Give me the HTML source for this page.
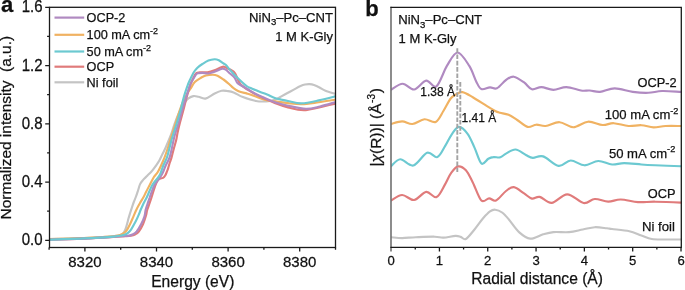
<!DOCTYPE html>
<html><head><meta charset="utf-8"><style>
html,body{margin:0;padding:0;background:#fff;}
body{width:685px;height:290px;overflow:hidden;}
svg{display:block;will-change:transform;}
text{font-family:"Liberation Sans",sans-serif;fill:#111;stroke:#111;stroke-width:0.25px;}
</style></head><body>
<svg width="685" height="290" viewBox="0 0 685 290">
<defs>
<clipPath id="ca"><rect x="49.5" y="7.3" width="286.0" height="240.2"/></clipPath>
<clipPath id="cb"><rect x="391.0" y="7.4" width="290.3" height="240.0"/></clipPath>
</defs>
<g clip-path="url(#ca)">
<path d="M49.0 239.2 C54.8 239.0 73.8 238.4 84.0 238.0 C94.2 237.6 104.5 236.9 110.0 236.5 C115.5 236.1 115.2 236.1 117.0 235.8 C118.8 235.5 120.0 235.2 121.0 234.8 C122.0 234.4 122.6 233.9 123.2 233.2 C123.8 232.5 124.2 232.0 124.8 230.8 C125.3 229.6 125.9 228.0 126.5 226.0 C127.1 224.0 127.8 221.1 128.4 218.8 C129.0 216.6 129.7 214.5 130.3 212.5 C130.9 210.5 131.5 208.8 132.1 207.0 C132.7 205.2 133.3 203.2 134.0 201.5 C134.7 199.8 135.3 198.4 136.0 196.5 C136.7 194.6 137.5 192.1 138.2 190.0 C138.9 187.9 139.3 185.8 140.1 184.1 C140.9 182.4 141.9 181.3 143.1 179.9 C144.3 178.5 145.9 177.1 147.3 175.7 C148.7 174.3 150.1 173.1 151.5 171.5 C152.9 169.9 154.4 167.8 155.7 166.0 C157.0 164.2 158.1 162.8 159.2 160.8 C160.3 158.8 161.4 156.2 162.5 154.0 C163.6 151.8 164.3 150.7 165.7 147.5 C167.1 144.3 169.4 138.9 170.9 135.0 C172.4 131.1 173.2 127.5 174.5 124.0 C175.8 120.5 177.2 116.9 178.5 114.0 C179.8 111.1 181.1 108.6 182.3 106.5 C183.5 104.4 184.5 102.8 185.5 101.5 C186.5 100.2 187.1 99.3 188.4 98.4 C189.7 97.5 191.7 96.4 193.4 96.1 C195.1 95.8 196.5 96.4 198.5 96.8 C200.5 97.2 202.8 99.1 205.5 98.6 C208.2 98.0 212.0 94.8 214.7 93.5 C217.4 92.2 219.5 91.2 221.6 90.8 C223.7 90.4 225.0 90.7 227.0 91.0 C229.0 91.3 230.9 91.4 233.6 92.4 C236.2 93.4 239.2 95.7 242.9 97.1 C246.6 98.5 252.0 100.3 255.9 101.0 C259.8 101.7 263.1 101.6 266.2 101.4 C269.3 101.2 272.4 100.5 274.8 99.7 C277.2 99.0 278.5 98.0 280.5 96.9 C282.5 95.8 284.8 94.5 287.0 93.3 C289.2 92.1 291.6 90.8 293.8 89.6 C296.0 88.4 298.1 87.0 300.0 86.2 C301.9 85.4 303.4 84.8 305.0 84.5 C306.6 84.2 308.0 84.0 309.5 84.1 C311.0 84.2 312.3 84.4 314.0 85.0 C315.7 85.6 317.6 86.5 319.5 87.5 C321.4 88.5 322.9 89.8 325.5 90.8 C328.1 91.8 333.4 93.3 335.0 93.8" stroke="#C4C4C4" stroke-width="2.15" fill="none" stroke-linejoin="round" stroke-linecap="round"/>
<path d="M49.0 239.2 C54.8 239.1 73.8 238.5 84.0 238.1 C94.2 237.6 104.7 237.0 110.0 236.6 C115.3 236.2 114.3 236.2 116.0 235.9 C117.7 235.6 118.8 235.4 120.0 235.0 C121.2 234.6 122.4 234.1 123.5 233.3 C124.6 232.5 125.6 231.9 126.7 230.4 C127.8 228.9 128.9 226.6 130.0 224.3 C131.1 222.0 132.3 219.1 133.4 216.6 C134.5 214.1 135.4 211.8 136.5 209.5 C137.6 207.2 138.9 205.0 140.0 203.0 C141.1 201.0 142.2 199.4 143.3 197.5 C144.4 195.6 145.2 193.6 146.3 191.5 C147.4 189.4 148.4 187.4 149.7 185.0 C151.0 182.6 152.5 179.2 153.9 177.0 C155.3 174.8 156.5 174.3 158.1 171.5 C159.7 168.7 161.8 164.0 163.5 160.0 C165.2 156.0 166.6 151.7 168.0 147.5 C169.4 143.3 170.5 139.2 171.8 135.0 C173.1 130.8 174.6 126.7 175.9 122.5 C177.2 118.3 178.5 113.7 179.8 110.0 C181.1 106.3 182.3 103.2 183.5 100.5 C184.7 97.8 186.0 95.5 187.2 93.5 C188.4 91.5 189.2 90.5 190.5 88.6 C191.8 86.7 193.1 83.9 194.8 82.1 C196.5 80.3 199.1 78.9 200.9 77.8 C202.8 76.7 203.9 76.0 205.9 75.5 C207.9 75.0 210.9 74.7 212.8 74.7 C214.7 74.7 215.7 74.9 217.5 75.7 C219.3 76.5 221.5 78.1 223.5 79.5 C225.5 80.9 227.7 82.8 229.3 84.2 C230.9 85.6 231.4 86.5 233.0 87.7 C234.6 88.9 236.3 90.2 238.6 91.2 C240.9 92.2 244.4 92.8 246.6 93.4 C248.8 94.0 248.6 93.9 251.6 94.9 C254.6 96.0 260.6 98.6 264.5 99.7 C268.4 100.8 270.9 100.8 274.8 101.4 C278.7 102.0 283.5 102.6 288.0 103.1 C292.5 103.6 296.5 104.3 301.6 104.2 C306.7 104.1 313.2 103.0 318.8 102.3 C324.4 101.5 332.3 100.1 335.0 99.7" stroke="#F0B262" stroke-width="2.15" fill="none" stroke-linejoin="round" stroke-linecap="round"/>
<path d="M49.0 239.8 C54.8 239.6 73.8 239.0 84.0 238.6 C94.2 238.1 103.2 237.6 110.0 237.2 C116.8 236.8 121.5 236.5 125.0 236.3 C128.5 236.1 129.3 236.1 131.0 235.8 C132.7 235.5 133.7 235.2 135.0 234.5 C136.3 233.8 137.5 233.2 138.8 231.5 C140.1 229.8 141.8 227.0 143.0 224.3 C144.2 221.6 145.3 217.9 146.0 215.5 C146.7 213.1 146.6 211.9 147.2 210.0 C147.8 208.1 148.6 206.1 149.3 204.0 C150.0 201.9 150.8 199.7 151.5 197.5 C152.2 195.3 152.9 193.0 153.5 191.0 C154.1 189.0 154.8 187.0 155.3 185.5 C155.9 184.0 156.3 183.0 156.8 182.0 C157.3 181.0 157.7 180.1 158.3 179.5 C158.9 178.9 159.7 178.8 160.5 178.5 C161.3 178.2 162.2 178.4 163.0 177.9 C163.8 177.4 164.5 176.6 165.2 175.5 C165.9 174.4 166.5 172.6 167.1 171.2 C167.7 169.8 168.1 168.3 168.5 167.0 C168.9 165.7 169.0 165.1 169.5 163.5 C170.0 161.9 170.8 160.2 171.5 157.6 C172.2 155.0 173.2 150.9 174.0 148.0 C174.8 145.1 175.6 142.5 176.2 140.0 C176.8 137.5 176.9 135.9 177.5 133.0 C178.1 130.1 179.0 126.3 180.0 122.5 C181.0 118.7 182.3 114.2 183.4 110.0 C184.5 105.8 185.4 101.7 186.6 97.5 C187.8 93.3 189.2 88.2 190.3 85.0 C191.4 81.8 192.3 80.0 193.3 78.0 C194.3 76.0 195.3 74.0 196.4 73.1 C197.5 72.2 198.0 72.6 199.8 72.4 C201.7 72.2 205.1 72.6 207.5 72.2 C209.9 71.8 212.3 71.0 214.5 70.2 C216.7 69.4 218.9 68.2 220.5 67.6 C222.1 67.0 222.8 66.6 224.0 66.7 C225.2 66.8 226.2 67.8 227.5 68.4 C228.8 69.0 230.4 69.5 231.7 70.3 C233.0 71.1 233.7 71.2 235.2 73.5 C236.7 75.8 237.8 81.1 240.5 84.2 C243.2 87.3 247.6 89.6 251.6 92.0 C255.6 94.4 260.6 96.7 264.5 98.5 C268.4 100.3 270.9 101.5 274.8 103.0 C278.7 104.5 282.8 106.2 288.0 107.4 C293.2 108.6 298.1 110.7 305.9 110.1 C313.7 109.5 330.1 104.7 335.0 103.6" stroke="#E07B7B" stroke-width="2.15" fill="none" stroke-linejoin="round" stroke-linecap="round"/>
<path d="M49.0 239.8 C54.8 239.6 73.8 239.0 84.0 238.6 C94.2 238.1 103.7 237.5 110.0 237.1 C116.3 236.7 118.8 236.4 122.0 236.2 C125.2 235.9 127.2 235.9 129.0 235.6 C130.8 235.3 131.7 234.9 133.0 234.2 C134.3 233.5 135.3 233.2 136.7 231.5 C138.0 229.8 139.8 226.8 141.1 224.3 C142.4 221.8 143.7 219.0 144.4 216.6 C145.2 214.2 145.1 212.1 145.6 210.0 C146.1 207.9 146.8 206.1 147.5 204.0 C148.2 201.9 148.9 199.7 149.7 197.5 C150.4 195.3 151.3 192.9 152.0 191.0 C152.7 189.1 153.4 187.3 154.0 186.0 C154.6 184.7 155.2 183.9 155.8 183.0 C156.4 182.1 157.2 181.4 157.8 180.5 C158.5 179.6 159.1 178.5 159.7 177.6 C160.3 176.7 160.8 176.4 161.4 175.3 C162.0 174.2 162.8 172.6 163.5 171.0 C164.2 169.4 164.8 167.5 165.5 166.0 C166.2 164.5 166.8 163.4 167.5 162.0 C168.2 160.6 168.8 159.6 169.5 157.6 C170.2 155.6 170.8 152.9 171.5 150.0 C172.2 147.1 172.9 142.8 173.6 140.0 C174.2 137.2 174.5 135.9 175.4 133.0 C176.3 130.1 177.7 126.3 178.8 122.5 C179.9 118.7 181.0 114.2 182.2 110.0 C183.4 105.8 184.8 101.6 186.1 97.5 C187.4 93.4 188.7 88.5 189.8 85.5 C190.9 82.5 191.9 81.4 192.9 79.6 C193.9 77.8 195.0 75.7 195.9 74.6 C196.8 73.5 197.0 73.5 198.1 73.2 C199.2 72.9 200.7 72.8 202.4 72.8 C204.1 72.8 206.4 73.7 208.4 73.5 C210.4 73.3 212.2 72.6 214.5 71.8 C216.8 71.0 220.3 69.1 222.2 68.8 C224.1 68.5 224.4 68.9 225.7 69.7 C227.0 70.5 228.5 72.2 230.0 73.5 C231.5 74.8 233.2 75.8 234.5 77.5 C235.8 79.2 235.9 81.6 237.9 83.4 C239.9 85.2 243.7 86.8 246.6 88.5 C249.5 90.2 252.2 92.1 255.2 93.7 C258.2 95.3 261.2 96.5 264.5 97.9 C267.8 99.3 270.9 100.9 274.8 102.2 C278.7 103.5 282.8 104.6 288.0 105.7 C293.2 106.8 300.6 108.7 305.9 108.8 C311.2 108.9 315.1 107.6 320.0 106.5 C324.9 105.4 332.5 103.0 335.0 102.3" stroke="#B08AC1" stroke-width="2.15" fill="none" stroke-linejoin="round" stroke-linecap="round"/>
<path d="M49.0 239.7 C54.8 239.4 73.8 238.9 84.0 238.4 C94.2 238.0 104.3 237.4 110.0 236.9 C115.7 236.5 116.1 236.2 118.0 236.0 C119.9 235.8 120.4 235.7 121.5 235.5 C122.6 235.3 123.4 235.2 124.5 234.8 C125.6 234.4 126.9 233.7 128.0 232.8 C129.1 231.9 129.9 231.2 131.2 229.3 C132.5 227.4 134.3 224.1 135.6 221.6 C136.9 219.1 138.1 216.3 138.9 214.4 C139.7 212.5 139.8 211.8 140.6 210.0 C141.4 208.2 142.5 205.6 143.5 203.5 C144.5 201.4 145.7 199.6 146.7 197.5 C147.7 195.4 148.6 193.1 149.5 191.0 C150.4 188.9 151.4 186.6 152.3 185.0 C153.2 183.4 154.0 182.6 154.8 181.5 C155.6 180.4 156.4 179.7 157.3 178.5 C158.2 177.3 159.3 175.9 160.0 174.5 C160.7 173.1 161.1 171.6 161.7 170.0 C162.3 168.4 162.6 167.1 163.5 165.0 C164.4 162.9 165.9 160.4 166.9 157.6 C167.9 154.8 168.7 150.9 169.5 148.0 C170.3 145.1 170.9 142.3 171.5 140.0 C172.1 137.7 172.4 136.9 173.3 134.0 C174.2 131.1 175.8 126.5 177.0 122.5 C178.2 118.5 179.5 114.2 180.6 110.0 C181.7 105.8 182.6 101.5 183.7 97.5 C184.8 93.5 186.4 88.9 187.4 86.0 C188.4 83.1 188.8 82.3 189.9 80.0 C191.0 77.7 192.6 74.2 193.8 72.2 C195.0 70.2 195.8 69.3 197.2 67.9 C198.6 66.5 200.5 65.2 202.4 64.0 C204.3 62.8 206.4 61.4 208.4 60.6 C210.4 59.8 212.8 59.4 214.5 59.3 C216.2 59.2 217.4 59.6 218.8 60.2 C220.2 60.9 221.9 62.4 223.1 63.2 C224.2 64.0 224.8 64.0 225.7 64.8 C226.6 65.6 227.3 66.7 228.3 67.9 C229.3 69.1 230.1 70.1 231.7 71.8 C233.3 73.5 235.4 75.8 237.9 78.2 C240.4 80.6 244.3 84.3 246.6 86.0 C248.9 87.7 249.3 87.4 251.6 88.4 C253.9 89.4 257.6 90.9 260.2 91.9 C262.8 92.9 264.7 93.5 267.1 94.5 C269.5 95.5 272.4 97.0 274.8 97.9 C277.2 98.8 279.5 99.2 281.7 99.7 C283.9 100.2 284.7 100.4 288.0 101.0 C291.3 101.6 296.5 103.4 301.6 103.3 C306.7 103.2 313.2 101.6 318.8 100.4 C324.4 99.2 332.3 97.1 335.0 96.4" stroke="#6CC9D1" stroke-width="2.15" fill="none" stroke-linejoin="round" stroke-linecap="round"/>
</g>
<rect x="49.5" y="7.3" width="286.0" height="240.2" fill="none" stroke="#1a1a1a" stroke-width="1.3"/>
<path d="M45.2 240.30H49.5 M45.2 182.06H49.5 M45.2 123.82H49.5 M45.2 65.58H49.5 M45.2 7.34H49.5 M47.1 211.18H49.5 M47.1 152.94H49.5 M47.1 94.70H49.5 M47.1 36.46H49.5 M84.90 247.5V251.5 M156.50 247.5V251.5 M228.10 247.5V251.5 M299.70 247.5V251.5 M49.10 247.5V249.7 M120.70 247.5V249.7 M192.30 247.5V249.7 M263.90 247.5V249.7 M335.50 247.5V249.7" stroke="#1a1a1a" stroke-width="1.3" fill="none"/>
<text transform="translate(42.6,245.40) scale(1,1.04)" font-size="15" text-anchor="end">0.0</text>
<text transform="translate(42.6,187.16) scale(1,1.04)" font-size="15" text-anchor="end">0.4</text>
<text transform="translate(42.6,128.92) scale(1,1.04)" font-size="15" text-anchor="end">0.8</text>
<text transform="translate(42.6,70.68) scale(1,1.04)" font-size="15" text-anchor="end">1.2</text>
<text transform="translate(42.6,12.44) scale(1,1.04)" font-size="15" text-anchor="end">1.6</text>
<text transform="translate(84.90,266.8) scale(1,1.002)" font-size="15" text-anchor="middle">8320</text>
<text transform="translate(156.50,266.8) scale(1,1.002)" font-size="15" text-anchor="middle">8340</text>
<text transform="translate(228.10,266.8) scale(1,1.002)" font-size="15" text-anchor="middle">8360</text>
<text transform="translate(299.70,266.8) scale(1,1.002)" font-size="15" text-anchor="middle">8380</text>
<text x="192.8" y="286.7" font-size="15.6" text-anchor="middle">Energy (eV)</text>
<text transform="translate(10.9,127.7) rotate(-90)" font-size="15.45" text-anchor="middle" xml:space="preserve">Normalized intensity  (a.u.)</text>
<text x="1.0" y="11.8" font-size="22" font-weight="bold">a</text>
<path d="M54.5 17.6H84.2" stroke="#B08AC1" stroke-width="2.2"/>
<text x="86.6" y="22.2" font-size="12.7">OCP-2</text>
<path d="M54.5 34.8H84.2" stroke="#F0B262" stroke-width="2.2"/>
<text x="86.6" y="39.4" font-size="12.7">100 mA cm<tspan dy="-5" font-size="9">-2</tspan></text>
<path d="M54.5 51.5H84.2" stroke="#6CC9D1" stroke-width="2.2"/>
<text x="86.6" y="56.1" font-size="12.7">50 mA cm<tspan dy="-5" font-size="9">-2</tspan></text>
<path d="M54.5 66.7H84.2" stroke="#E07B7B" stroke-width="2.2"/>
<text x="86.6" y="71.3" font-size="12.7">OCP</text>
<path d="M54.5 82.3H84.2" stroke="#C4C4C4" stroke-width="2.2"/>
<text x="86.6" y="86.9" font-size="12.7">Ni foil</text>
<text x="333" y="22.3" font-size="13.1" text-anchor="end">NiN<tspan dy="3.0" font-size="9.6">3</tspan><tspan dy="-3.0">–Pc–CNT</tspan></text>
<text x="333" y="40.8" font-size="13" text-anchor="end">1 M K-Gly</text>
<g clip-path="url(#cb)">
<path d="M391.0 237.2 C392.9 237.3 398.0 238.1 402.1 238.1 C406.2 238.1 410.4 237.4 415.9 237.2 C421.3 237.0 430.2 236.6 434.8 236.7 C439.4 236.8 439.9 237.7 443.4 237.6 C446.8 237.5 452.6 236.0 455.5 235.9 C458.4 235.8 459.0 236.4 460.7 236.9 C462.4 237.4 463.6 240.2 465.9 239.0 C468.2 237.8 471.6 232.9 474.5 229.5 C477.4 226.1 480.5 221.3 483.1 218.3 C485.7 215.3 488.0 212.8 490.0 211.4 C492.0 210.0 493.2 209.5 495.2 209.7 C497.2 209.9 499.9 210.9 502.1 212.5 C504.3 214.1 505.8 215.8 508.6 219.1 C511.4 222.4 515.4 228.8 519.0 232.1 C522.6 235.3 526.2 238.2 530.2 238.6 C534.2 239.0 539.2 235.4 543.1 234.3 C547.0 233.2 549.1 232.5 553.4 232.1 C557.7 231.7 564.1 232.5 569.0 232.1 C573.9 231.7 578.5 230.3 582.8 229.5 C587.1 228.7 590.8 227.4 594.8 227.2 C598.8 227.0 604.0 228.0 606.9 228.3 C609.8 228.6 608.4 228.5 612.1 229.0 C615.8 229.5 624.4 230.1 629.3 231.2 C634.2 232.3 637.6 234.2 641.4 235.5 C645.1 236.8 647.8 238.3 651.8 239.0 C655.8 239.7 660.7 239.4 665.6 239.5 C670.5 239.6 678.4 239.5 681.0 239.5" stroke="#C4C4C4" stroke-width="2.15" fill="none" stroke-linejoin="round" stroke-linecap="round"/>
<path d="M391.0 200.5 C392.9 199.6 398.2 195.1 402.1 195.0 C406.0 194.9 410.1 200.5 414.1 200.0 C418.1 199.5 422.4 192.4 426.2 191.9 C429.9 191.4 433.4 198.4 436.6 197.1 C439.8 195.8 442.8 188.1 445.2 184.1 C447.6 180.1 449.0 175.8 451.2 172.9 C453.4 170.0 455.7 166.8 458.1 166.4 C460.6 166.0 463.4 167.6 465.9 170.3 C468.3 173.0 470.2 177.4 472.8 182.4 C475.4 187.4 478.7 197.8 481.4 200.5 C484.1 203.2 486.7 198.3 489.1 198.3 C491.5 198.3 493.2 201.7 496.0 200.5 C498.8 199.3 503.0 193.2 506.0 191.0 C509.0 188.8 510.8 186.7 513.8 187.1 C516.8 187.5 521.1 191.5 524.1 193.4 C527.1 195.3 529.3 198.0 531.9 198.6 C534.5 199.2 536.4 196.2 539.7 196.9 C543.0 197.6 547.1 203.3 551.7 202.9 C556.3 202.5 561.9 194.3 567.2 194.3 C572.5 194.3 579.0 202.2 583.6 203.0 C588.2 203.8 590.7 199.2 594.8 199.0 C598.9 198.8 603.9 201.5 608.2 201.6 C612.5 201.7 615.7 199.4 620.7 199.5 C625.7 199.6 632.2 201.7 638.0 202.1 C643.8 202.5 648.0 201.6 655.2 201.7 C662.4 201.8 676.7 202.4 681.0 202.6" stroke="#E07B7B" stroke-width="2.15" fill="none" stroke-linejoin="round" stroke-linecap="round"/>
<path d="M391.0 166.2 C392.6 165.0 396.6 159.4 400.3 159.3 C404.0 159.2 408.8 166.6 413.3 165.5 C417.8 164.4 423.1 154.2 427.1 152.8 C431.1 151.4 434.4 158.2 437.4 157.1 C440.4 155.9 442.8 149.8 445.2 145.9 C447.6 142.0 449.8 137.0 452.1 133.8 C454.4 130.6 456.4 126.9 459.0 126.9 C461.6 126.9 465.0 130.4 467.6 133.8 C470.2 137.2 472.2 142.7 474.5 147.6 C476.8 152.5 479.1 161.6 481.4 163.5 C483.7 165.4 486.3 159.9 488.3 158.8 C490.3 157.7 491.4 157.3 493.4 157.1 C495.4 156.8 498.2 157.9 500.3 157.3 C502.4 156.7 503.5 154.9 506.0 153.6 C508.5 152.3 512.2 149.3 515.5 149.5 C518.8 149.7 523.0 153.6 525.9 155.0 C528.8 156.4 529.9 157.7 532.8 157.9 C535.7 158.1 538.8 155.1 543.1 156.4 C547.4 157.7 554.0 165.2 558.6 165.9 C563.2 166.6 566.4 160.6 570.7 160.5 C575.0 160.4 579.9 165.2 584.5 165.3 C589.1 165.4 593.7 161.1 598.3 161.0 C602.9 160.9 607.8 164.2 612.1 164.5 C616.4 164.8 619.3 163.1 624.2 163.1 C629.1 163.1 636.2 164.1 641.4 164.5 C646.6 164.9 648.6 165.0 655.2 165.3 C661.8 165.6 676.7 166.0 681.0 166.2" stroke="#6CC9D1" stroke-width="2.15" fill="none" stroke-linejoin="round" stroke-linecap="round"/>
<path d="M391.0 124.0 C392.9 123.6 398.5 121.4 402.1 121.4 C405.7 121.4 408.7 124.3 412.4 124.0 C416.1 123.7 420.6 119.6 424.5 119.3 C428.4 119.0 432.6 123.3 435.7 121.9 C438.8 120.5 441.0 114.8 443.4 111.0 C445.8 107.2 448.3 101.7 450.3 99.0 C452.3 96.3 453.5 95.9 455.5 94.7 C457.5 93.5 459.5 91.7 462.4 92.1 C465.3 92.5 468.8 94.9 472.8 97.2 C476.8 99.5 482.9 103.6 486.6 105.9 C490.3 108.2 493.0 109.8 495.2 111.0 C497.4 112.2 497.8 112.2 500.0 112.8 C502.2 113.4 505.7 113.6 508.6 114.8 C511.5 116.0 514.0 118.0 517.2 120.0 C520.4 122.0 524.4 126.1 527.6 126.9 C530.8 127.7 533.2 124.9 536.2 124.7 C539.2 124.5 541.8 126.4 545.7 126.0 C549.6 125.6 554.9 122.0 559.5 122.2 C564.1 122.4 568.5 127.3 573.3 127.2 C578.0 127.1 583.1 122.1 588.0 121.7 C592.9 121.3 598.3 124.8 602.6 125.0 C606.9 125.2 609.5 123.0 613.8 123.2 C618.1 123.4 623.9 125.7 628.5 126.0 C633.1 126.3 637.2 125.0 641.4 125.2 C645.6 125.4 649.5 127.3 653.5 127.4 C657.5 127.5 661.0 126.2 665.6 126.0 C670.2 125.8 678.4 126.0 681.0 126.0" stroke="#F0B262" stroke-width="2.15" fill="none" stroke-linejoin="round" stroke-linecap="round"/>
<path d="M391.0 89.7 C392.9 88.7 398.8 83.7 402.7 83.7 C406.6 83.7 410.2 90.0 414.1 89.5 C418.0 89.0 422.5 81.1 426.2 80.6 C429.9 80.1 432.9 88.9 436.4 86.4 C439.8 84.0 443.4 71.6 446.9 65.9 C450.4 60.3 453.9 52.5 457.6 52.5 C461.3 52.5 466.2 61.1 469.3 65.9 C472.4 70.7 474.2 77.5 476.2 81.4 C478.2 85.3 479.1 88.1 481.4 89.1 C483.7 90.1 487.4 87.5 490.0 87.4 C492.6 87.3 494.2 89.5 496.9 88.3 C499.6 87.1 503.2 81.9 506.0 80.0 C508.8 78.1 510.8 76.3 513.8 76.7 C516.8 77.1 521.1 80.3 524.1 82.4 C527.1 84.5 529.0 88.5 531.9 89.3 C534.8 90.1 537.8 87.0 541.4 87.1 C545.0 87.2 549.2 89.8 553.4 89.8 C557.6 89.8 561.8 87.0 566.4 87.1 C571.0 87.2 577.1 89.9 581.0 90.5 C584.9 91.1 586.5 90.3 589.7 90.5 C592.9 90.7 595.8 92.2 600.0 91.9 C604.2 91.6 609.2 88.4 614.7 88.4 C620.2 88.4 627.2 91.2 632.8 91.9 C638.4 92.6 643.4 93.0 648.3 92.8 C653.2 92.6 656.6 91.2 662.1 91.0 C667.6 90.8 677.9 91.8 681.0 91.9" stroke="#B08AC1" stroke-width="2.15" fill="none" stroke-linejoin="round" stroke-linecap="round"/>
</g>
<path d="M457.3 48.2V172" stroke="#a3a3a3" stroke-width="1.9" stroke-dasharray="4.6 1.7"/>
<path d="M460.3 82.1V134" stroke="#a3a3a3" stroke-width="1.9" stroke-dasharray="4.6 1.7"/>
<path d="M391.0 6.8V251.6" stroke="#707070" stroke-width="1.6" fill="none"/>
<path d="M390.4 7.4H681.3V247.4H390.4" stroke="#1a1a1a" stroke-width="1.3" fill="none"/>
<path d="M439.42 247.4V251.4 M487.74 247.4V251.4 M536.06 247.4V251.4 M584.38 247.4V251.4 M632.70 247.4V251.4 M681.02 247.4V251.4 M415.26 247.4V249.6 M463.58 247.4V249.6 M511.90 247.4V249.6 M560.22 247.4V249.6 M608.54 247.4V249.6 M656.86 247.4V249.6" stroke="#1a1a1a" stroke-width="1.3" fill="none"/>
<text transform="translate(391.10,265.4) scale(1,1.03)" font-size="13.1" text-anchor="middle">0</text>
<text transform="translate(439.42,265.4) scale(1,1.03)" font-size="13.1" text-anchor="middle">1</text>
<text transform="translate(487.74,265.4) scale(1,1.03)" font-size="13.1" text-anchor="middle">2</text>
<text transform="translate(536.06,265.4) scale(1,1.03)" font-size="13.1" text-anchor="middle">3</text>
<text transform="translate(584.38,265.4) scale(1,1.03)" font-size="13.1" text-anchor="middle">4</text>
<text transform="translate(632.70,265.4) scale(1,1.03)" font-size="13.1" text-anchor="middle">5</text>
<text transform="translate(681.02,265.4) scale(1,1.03)" font-size="13.1" text-anchor="middle">6</text>
<text x="537.1" y="283.9" font-size="15.6" text-anchor="middle">Radial distance (Å)</text>
<g transform="translate(380.7,0) rotate(-90)"><text x="-166.5" y="0" font-size="15.5">|<tspan font-style="italic">χ</tspan>(R))| (Å<tspan x="-102.9" dy="-5.4" font-size="10">-3</tspan><tspan x="-93.3" dy="5.4">)</tspan></text></g>
<text x="365.2" y="15.9" font-size="22" font-weight="bold">b</text>
<text x="398.2" y="23.8" font-size="13.1">NiN<tspan dy="4.3" font-size="9.6">3</tspan><tspan dy="-4.3">–Pc–CNT</tspan></text>
<text x="398.6" y="43.1" font-size="13">1 M K-Gly</text>
<text x="637.5" y="87.1" font-size="12.8">OCP-2</text>
<text x="604.8" y="119.3" font-size="13.1">100 mA cm<tspan dy="-5.2" font-size="9.2">-2</tspan></text>
<text x="608.9" y="157.5" font-size="13.1">50 mA cm<tspan dy="-5.2" font-size="9.2">-2</tspan></text>
<text x="647.8" y="198.1" font-size="12.8">OCP</text>
<text x="642.0" y="230.7" font-size="13.2">Ni foil</text>
<text x="420.3" y="95.5" font-size="12">1.38 Å</text>
<text x="461.6" y="122.2" font-size="12">1.41 Å</text>
</svg>
</body></html>
